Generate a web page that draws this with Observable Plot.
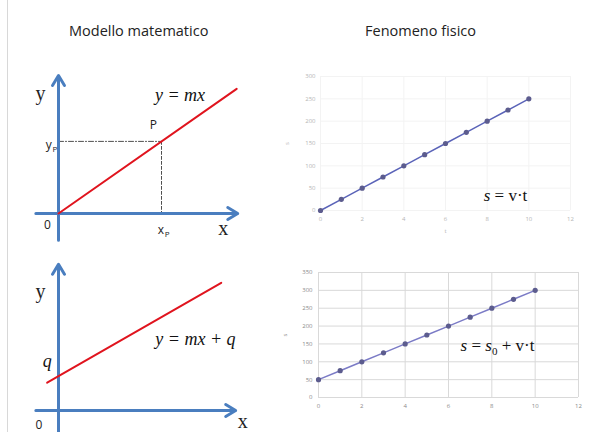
<!DOCTYPE html>
<html><head><meta charset="utf-8">
<script src="https://cdn.jsdelivr.net/npm/d3@7"></script>
<script src="https://cdn.jsdelivr.net/npm/@observablehq/plot@0.6"></script>
<style>
body{margin:0;background:#fff;}
#wrap{position:relative;width:605px;height:432px;overflow:hidden;background:#fff;font-family:"Open Sans","Noto Sans",sans-serif;}
.panel{position:absolute;}
.title{position:absolute;font-size:14.5px;color:#222;white-space:nowrap;}
#vline{position:absolute;left:7px;top:0;width:1px;height:432px;background:#d8d8d8;}
</style></head>
<body><div id="wrap"><div id="vline"></div>
<div class="title" style="left:69px;top:21px;">Modello matematico</div>
<div class="title" style="left:365px;top:21px;">Fenomeno fisico</div>
</div>
<script>
// ---- data ----
const titles = ["Modello matematico", "Fenomeno fisico"];
// top-left model: y = m x
const modelAxesTop = [{x1:0,y1:-2.6,x2:0,y2:13.4},{x1:-2.2,y1:0,x2:17.4,y2:0}];
const modelLineTop = [{x:0,y:0},{x:17.3,y:12.1}];
const pointP = {x:10, y:7};
// bottom-left model: y = m x + q
const modelAxesBot = [{x1:0,y1:-2.1,x2:0,y2:14.2},{x1:-2.2,y1:0,x2:17.2,y2:0}];
const modelLineBot = [{x:-1.1,y:2.7},{x:15.8,y:12.4}];
// physical data
const times = [0,1,2,3,4,5,6,7,8,9,10];
const sUniform = [0,25,50,75,100,125,150,175,200,225,250];
const sOffset = [50,75,100,125,150,175,200,225,250,275,300];
const xTicks = [0,2,4,6,8,10,12];
const yTicksTop = [0,50,100,150,200,250,300];
const yTicksBot = [0,50,100,150,200,250,300,350];

const wrap = document.getElementById("wrap");
function place(svg, left, top){
  const d = document.createElement("div");
  d.className = "panel"; d.style.left = left+"px"; d.style.top = top+"px";
  d.appendChild(svg); wrap.appendChild(d);
}
const blue = "#4a7ebf", red = "#e0141e";
const serif = "'Liberation Serif','DejaVu Serif',serif";
const sans = "'Open Sans','Noto Sans',sans-serif";
const u = 10.3;

// ---- top-left ----
{
  const W=250,H=190,ox=48,oy=153;
  const p = Plot.plot({
    width:W,height:H,margin:0,
    x:{domain:[-ox/u,(W-ox)/u],axis:null},
    y:{domain:[-(H-oy)/u,oy/u],axis:null},
    style:{background:"transparent",overflow:"visible"},
    marks:[
      Plot.line([{x:0,y:pointP.y},{x:pointP.x,y:pointP.y}],{x:"x",y:"y",stroke:"#222",strokeWidth:0.8,strokeDasharray:"5,2,1,2"}),
      Plot.line([{x:pointP.x,y:pointP.y},{x:pointP.x,y:0}],{x:"x",y:"y",stroke:"#222",strokeWidth:0.8,strokeDasharray:"3,2"}),
      Plot.arrow(modelAxesTop,{x1:"x1",y1:"y1",x2:"x2",y2:"y2",stroke:blue,strokeWidth:3,headLength:5.8,headAngle:62}),
      Plot.line(modelLineTop,{x:"x",y:"y",stroke:red,strokeWidth:2}),
      Plot.text([{x:-1.75,y:11.65,t:"y"},{x:16,y:-1.5,t:"x"}],{x:"x",y:"y",text:"t",fontFamily:serif,fontSize:20,fill:"#222"}),
      Plot.text([{x:11.8,y:11.5,t:"y = mx"}],{x:"x",y:"y",text:"t",fontFamily:serif,fontStyle:"italic",fontSize:18,fill:"#111"}),
      Plot.text([{x:9.2,y:8.6,t:"P"},{x:-1.07,y:-1.17,t:"0"},{x:-0.95,y:6.6,t:"y"},{x:9.95,y:-1.6,t:"x"}],{x:"x",y:"y",text:"t",fontFamily:sans,fontSize:12,fill:"#222"}),
      Plot.text([{x:-0.35,y:6.2,t:"P"},{x:10.55,y:-2.0,t:"P"}],{x:"x",y:"y",text:"t",fontFamily:sans,fontSize:8,fill:"#222"})
    ]
  });
  place(p,10,60);
}
// ---- bottom-left ----
{
  const W=250,H=182,ox=48,oy=160;
  const p = Plot.plot({
    width:W,height:H,margin:0,
    x:{domain:[-ox/u,(W-ox)/u],axis:null},
    y:{domain:[-(H-oy)/u,oy/u],axis:null},
    style:{background:"transparent",overflow:"visible"},
    marks:[
      Plot.arrow(modelAxesBot,{x1:"x1",y1:"y1",x2:"x2",y2:"y2",stroke:blue,strokeWidth:3,headLength:5.8,headAngle:62}),
      Plot.line(modelLineBot,{x:"x",y:"y",stroke:red,strokeWidth:2}),
      Plot.text([{x:-1.75,y:11.5,t:"y"},{x:17.9,y:-1.05,t:"x"}],{x:"x",y:"y",text:"t",fontFamily:serif,fontSize:20,fill:"#222"}),
      Plot.text([{x:-1.1,y:4.8,t:"q"},{x:13.3,y:6.9,t:"y = mx + q"}],{x:"x",y:"y",text:"t",fontFamily:serif,fontStyle:"italic",fontSize:18,fill:"#111"}),
      Plot.text([{x:-1.9,y:-1.4,t:"0"}],{x:"x",y:"y",text:"t",fontFamily:sans,fontSize:12,fill:"#222"})
    ]
  });
  place(p,10,250);
}
// ---- right charts ----
const ptsTop = times.map((t,i)=>({t, s:sUniform[i]}));
const ptsBot = times.map((t,i)=>({t, s:sOffset[i]}));
function italicS(svg, selector, html){
  svg.querySelectorAll(selector).forEach(el=>{ if(el.textContent.startsWith("s =")) el.innerHTML = html; });
}
{
  const p = Plot.plot({
    width:310,height:180,marginLeft:40,marginRight:20,marginTop:11,marginBottom:35,
    style:{background:"transparent",fontFamily:sans,color:"#b5b5b5"},
    x:{domain:[0,12],ticks:xTicks,tickSize:0,tickPadding:6,label:"t",labelAnchor:"center",labelArrow:false,labelOffset:22},
    y:{domain:[0,300],ticks:yTicksTop,tickSize:0,tickPadding:5,label:"s",labelAnchor:"center",labelArrow:false,labelOffset:36},
    marks:[
      Plot.gridX(xTicks,{stroke:"#f3f3f3",strokeOpacity:1}),
      Plot.gridY(yTicksTop,{stroke:"#f3f3f3",strokeOpacity:1}),
      Plot.line(ptsTop,{x:"t",y:"s",stroke:"#5a63b8",strokeWidth:1.5}),
      Plot.dot(ptsTop,{x:"t",y:"s",r:2.6,fill:"#5c5c8e"}),
      Plot.text([{t:8.88,s:33.6,l:"s = v·t"}],{x:"t",y:"s",text:"l",fontFamily:serif,fontSize:17,fill:"#111"})
    ]
  });
  p.querySelectorAll("g[aria-label*='axis'] text").forEach(t=>t.setAttribute("font-size","6"));
  italicS(p,"g[aria-label='text'] text",'<tspan font-style="italic">s</tspan> = v·t');
  place(p,280,65);
}
{
  const p = Plot.plot({
    width:310,height:170,marginLeft:38,marginRight:12,marginTop:17,marginBottom:28,
    style:{background:"transparent",fontFamily:sans,color:"#8a8a8a"},
    x:{domain:[0,12],ticks:xTicks,tickSize:0,tickPadding:6,label:null},
    y:{domain:[0,350],ticks:yTicksBot,tickSize:0,tickPadding:6,label:"s",labelAnchor:"center",labelArrow:false,labelOffset:36},
    marks:[
      Plot.gridX(xTicks,{stroke:"#d9d9d9",strokeOpacity:1}),
      Plot.gridY(yTicksBot,{stroke:"#d9d9d9",strokeOpacity:1}),
      Plot.line(ptsBot,{x:"t",y:"s",stroke:"#7b7bc6",strokeWidth:1.5}),
      Plot.dot(ptsBot,{x:"t",y:"s",r:2.6,fill:"#5c5c8e"}),
      Plot.text([{t:8.26,s:145.6,l:"s = s0 + v·t"}],{x:"t",y:"s",text:"l",fontFamily:serif,fontSize:17,fill:"#111"})
    ]
  });
  p.querySelectorAll("g[aria-label*='axis'] text").forEach(t=>t.setAttribute("font-size","6"));
  italicS(p,"g[aria-label='text'] text",'<tspan font-style="italic">s</tspan> = <tspan font-style="italic">s</tspan><tspan font-size="11" dy="4">0</tspan><tspan dy="-4"> + v·t</tspan>');
  place(p,280,255);
}
</script></body></html>
